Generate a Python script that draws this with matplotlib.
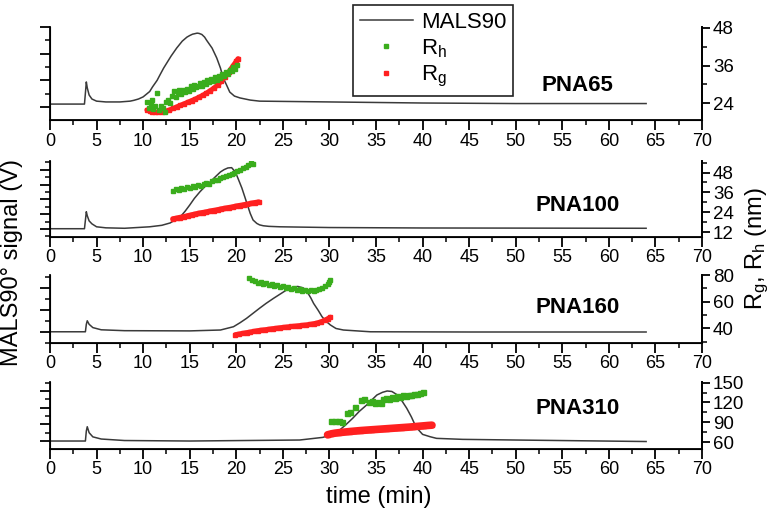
import matplotlib
matplotlib.use("Agg")
import matplotlib.pyplot as plt
from matplotlib.lines import Line2D
from matplotlib.ticker import MultipleLocator

plt.rcParams['font.family'] = ['Liberation Sans', 'DejaVu Sans']
plt.rcParams['mathtext.default'] = 'regular'

# ---- data ----
samples = ['PNA65', 'PNA100', 'PNA160', 'PNA310']

# MALS90 signal (arbitrary V units, no labels on the left axis)
mals_t1 = [0, 3.7, 3.82, 3.9, 4.0, 4.2, 4.5, 5.0, 6.0, 7.5, 8.6, 9.0, 9.5, 10.0, 10.7, 11.0,
           11.5, 11.8, 12.2, 13.0, 13.6, 14.2, 14.7, 15.0, 15.3, 15.8, 16.0, 16.3, 16.6, 16.8,
           17.4, 17.9, 18.3, 18.6, 19.0, 19.3, 19.8, 20.4, 21.5, 22.5, 25, 30, 40, 50, 64]
mals_v1 = [0.11, 0.11, 0.6, 0.94, 0.72, 0.45, 0.3, 0.22, 0.19, 0.19, 0.22, 0.25, 0.3, 0.38,
           0.58, 0.75, 1.0, 1.2, 1.46, 1.91, 2.21, 2.47, 2.62, 2.68, 2.73, 2.77, 2.76, 2.72,
           2.62, 2.51, 2.21, 1.84, 1.46, 1.09, 0.79, 0.56, 0.41, 0.34, 0.26, 0.22, 0.21, 0.19,
           0.15, 0.13, 0.13]

mals_t2 = [0, 3.7, 3.82, 3.9, 4.0, 4.2, 4.5, 5.0, 6.0, 8.0, 10.7, 12.0, 12.9, 14.0, 14.5,
           15.0, 15.5, 16.1, 16.6, 17.2, 17.7, 18.3, 18.7, 19.1, 19.5, 19.9, 20.2, 20.6, 20.9,
           21.2, 21.5, 21.8, 22.2, 22.5, 22.9, 23.5, 24.7, 30, 40, 64]
mals_v2 = [0.02, 0.02, 0.7, 1.17, 0.9, 0.55, 0.35, 0.15, 0.08, 0.05, 0.15, 0.25, 0.41, 0.83,
           1.2, 1.62, 2.07, 2.52, 2.85, 3.19, 3.5, 3.86, 4.02, 4.13, 4.15, 3.86, 3.4, 2.77,
           2.2, 1.62, 1.05, 0.61, 0.38, 0.28, 0.22, 0.18, 0.15, 0.1, 0.07, 0.05]

mals_t3 = [0, 3.8, 3.9, 4.0, 4.2, 4.6, 5.5, 8.0, 15.0, 18.3, 19.7, 20.4, 21.1, 22.5, 23.2,
           24.0, 24.7, 25.4, 26.0, 26.6, 27.2, 27.6, 28.0, 28.3, 28.8, 29.2, 29.6, 30.1, 30.7,
           31.5, 34.4, 45, 64]
mals_v3 = [0.01, 0.01, 0.35, 0.51, 0.35, 0.2, 0.1, 0.06, 0.05, 0.09, 0.24, 0.42, 0.62, 1.08,
           1.3, 1.53, 1.72, 1.91, 2.02, 2.07, 2.0, 1.83, 1.55, 1.30, 0.98, 0.70, 0.5, 0.32,
           0.16, 0.09, 0.01, 0.0, 0.0]

mals_t4 = [0, 3.8, 3.9, 4.0, 4.2, 4.6, 5.5, 8.0, 15.0, 26.8, 29.3, 30.3, 31.1, 31.8, 32.5,
           33.2, 34.0, 34.6, 35.1, 35.7, 36.2, 36.7, 37.3, 37.8, 38.3, 38.8, 39.2, 39.6, 40.0,
           40.8, 41.5, 44.3, 50, 64]
mals_v4 = [0.0, 0.0, 0.6, 0.86, 0.5, 0.25, 0.12, 0.03, 0.0, 0.06, 0.22, 0.4, 0.66, 1.0, 1.37,
           1.78, 2.17, 2.5, 2.77, 2.93, 3.01, 2.98, 2.77, 2.4, 1.97, 1.45, 0.96, 0.65, 0.40,
           0.26, 0.16, 0.10, 0.06, -0.03]

# Rh (nm)
rh_t1 = [10.4, 10.6, 10.8, 11.0, 11.1, 11.3, 11.5, 11.7, 11.9, 12.1, 12.3, 12.5, 12.7, 12.9,
         13.1, 13.3, 13.5, 13.7, 13.9, 14.1, 14.3, 14.5, 14.7, 14.9, 15.1, 15.3, 15.5, 15.7,
         15.9, 16.1, 16.3, 16.5, 16.7, 16.9, 17.1, 17.3, 17.5, 17.7, 17.9, 18.1, 18.3, 18.5,
         18.7, 18.9, 19.1, 19.3, 19.5, 19.7, 19.9, 20.1]
rh_v1 = [24.3, 22.5, 23.6, 24.9, 22.0, 23.2, 27.2, 21.8, 23.0, 22.4, 21.2, 24.5, 25.1, 24.0,
         26.2, 27.8, 26.0, 27.4, 28.3, 27.0, 28.1, 27.6, 28.6, 28.0, 29.3, 28.4, 29.8, 29.0,
         29.5, 30.4, 29.6, 30.8, 30.2, 31.3, 30.6, 31.6, 31.1, 32.3, 31.5, 32.6, 32.0, 33.3,
         32.7, 34.0, 33.4, 34.6, 34.1, 35.5, 35.0, 36.3]

rh_t2 = [13.2, 13.5, 13.8, 14.1, 14.4, 14.7, 15.0, 15.3, 15.6, 15.9, 16.2, 16.5, 16.8, 17.1,
         17.4, 17.7, 18.0, 18.3, 18.6, 18.9, 19.2, 19.5, 19.8, 20.1, 20.4, 20.7, 21.0, 21.3,
         21.6, 21.8]
rh_v2 = [37.0, 37.8, 37.4, 38.5, 38.2, 39.0, 38.7, 39.6, 39.4, 40.2, 40.0, 40.9, 41.4, 41.2,
         42.6, 43.3, 43.6, 44.6, 45.5, 46.0, 46.6, 47.2, 47.9, 48.8, 49.6, 50.8, 51.5, 52.4,
         53.8, 53.2]

rh_t3 = [21.4, 21.7, 22.0, 22.3, 22.6, 22.9, 23.2, 23.5, 23.8, 24.1, 24.4, 24.7, 25.0, 25.3,
         25.6, 25.9, 26.2, 26.5, 26.8, 27.1, 27.4, 27.7, 28.0, 28.3, 28.6, 28.9, 29.2, 29.5,
         29.8, 30.0, 30.1]
rh_v3 = [78.0, 76.4, 75.6, 74.2, 74.9, 73.1, 73.8, 72.4, 73.0, 71.8, 72.5, 71.2, 71.6, 70.1,
         70.8, 69.4, 70.0, 68.8, 69.5, 68.2, 68.9, 67.8, 68.6, 68.0, 69.0, 69.6, 70.4, 71.5,
         73.4, 75.0, 76.0]

rh_t4 = [30.2, 30.6, 31.0, 31.3, 31.9, 32.2, 32.7, 33.4, 33.7, 34.3, 34.6, 34.9, 35.2, 35.5,
         35.8, 36.1, 36.4, 36.7, 37.0, 37.3, 37.6, 37.9, 38.2, 38.5, 38.8, 39.1, 39.4, 39.7, 40.0]
rh_v4 = [91.5, 92.5, 92.0, 90.8, 104.0, 105.5, 113.0, 123.0, 125.5, 120.0, 122.5, 118.5, 121.0,
         119.0, 125.0, 127.0, 125.5, 128.5, 127.0, 129.5, 128.5, 131.0, 130.0, 132.0, 131.0,
         133.0, 132.5, 134.5, 136.0]

# Rg (nm)
rg_t1 = [10.4, 10.7, 11.0, 11.3, 11.6, 12.0, 12.4, 12.8, 13.2, 13.6, 14.0, 14.4, 14.8, 15.2,
         15.6, 16.0, 16.4, 16.8, 17.2, 17.6, 18.0, 18.4, 18.8, 19.2, 19.6, 20.0, 20.2]
rg_v1 = [21.8, 21.5, 21.2, 21.1, 21.1, 21.1, 21.4, 21.8, 22.3, 22.8, 23.3, 23.8, 24.3, 24.8,
         25.3, 25.9, 26.5, 27.2, 28.0, 28.8, 29.8, 31.0, 32.4, 34.0, 35.7, 37.4, 38.2]

rg_t2 = [13.2, 13.6, 14.0, 14.4, 14.8, 15.2, 15.6, 16.0, 16.4, 16.8, 17.2, 17.6, 18.0, 18.4,
         18.8, 19.2, 19.6, 20.0, 20.4, 20.8, 21.2, 21.6, 22.0, 22.4]
rg_v2 = [19.9, 20.3, 20.8, 21.2, 21.8, 22.3, 22.8, 23.3, 23.7, 24.1, 24.6, 25.0, 25.4, 25.9,
         26.3, 26.7, 27.1, 27.6, 28.0, 28.4, 28.8, 29.3, 29.7, 30.1]

rg_t3 = [19.9, 20.3, 20.7, 21.1, 21.5, 21.9, 22.3, 22.7, 23.1, 23.5, 23.9, 24.3, 24.7, 25.1,
         25.5, 25.9, 26.3, 26.7, 27.1, 27.5, 27.9, 28.3, 28.7, 29.1, 29.5, 29.8, 30.1]
rg_v3 = [35.3, 35.8, 36.3, 36.8, 37.3, 37.8, 38.3, 38.7, 39.0, 39.4, 39.8, 40.1, 40.5, 40.8,
         41.1, 41.4, 41.7, 42.0, 42.3, 42.6, 43.0, 43.5, 44.1, 45.0, 46.1, 47.2, 48.4]

rg_t4 = [29.8, 30.2, 30.6, 31.0, 31.4, 31.8, 32.2, 32.6, 33.0, 33.4, 33.8, 34.2, 34.6, 35.0,
         35.4, 35.8, 36.2, 36.6, 37.0, 37.4, 37.8, 38.2, 38.6, 39.0, 39.4, 39.8, 40.2, 40.6, 41.0]
rg_v4 = [71.0, 72.5, 73.5, 74.2, 74.8, 75.4, 76.0, 76.5, 77.0, 77.5, 77.9, 78.3, 78.7, 79.1,
         79.5, 79.9, 80.3, 80.7, 81.1, 81.5, 81.9, 82.3, 82.7, 83.2, 83.7, 84.2, 84.7, 85.2, 85.6]

right_ticks = [[24, 36, 48], [12, 24, 36, 48], [40, 60, 80], [60, 90, 120, 150]]
x_ticks = list(range(0, 75, 5))

mals_t = [mals_t1, mals_t2, mals_t3, mals_t4]
mals_v = [mals_v1, mals_v2, mals_v3, mals_v4]
rh_t = [rh_t1, rh_t2, rh_t3, rh_t4]
rh_v = [rh_v1, rh_v2, rh_v3, rh_v4]
rg_t = [rg_t1, rg_t2, rg_t3, rg_t4]
rg_v = [rg_v1, rg_v2, rg_v3, rg_v4]

# ---- layout (pixels of a 779x518 canvas) ----
W, H = 779, 518
x0, x1 = 50, 702
panel_px = [(27, 120), (161, 237), (275, 343), (382, 449)]
left_lim = [(-0.487, 3.0), (-0.54, 4.6), (-0.5, 2.59), (-0.48, 3.55)]
right_lim = [(18.6, 48.3), (9, 55), (29, 80), (49.5, 151)]
right_minor = [6, 6, 10, 15]
label_y = [0.376, 0.42, 0.515, 0.61]
rg_lw = [3.5, 4.0, 3.5, 5.5]
rh_ms = [2.8, 2.8, 2.8, 3.6]

green = '#3aad1c'
red = '#ff2020'
line_col = '#3a3a3a'

fig = plt.figure(figsize=(W / 100, H / 100), dpi=100)

for i in range(4):
    top, bot = panel_px[i]
    ax = fig.add_axes([x0 / W, 1 - bot / H, (x1 - x0) / W, (bot - top) / H])
    ax.plot(mals_t[i], mals_v[i], color=line_col, lw=1.1)
    ax.set_xlim(0, 70)
    ax.set_ylim(*left_lim[i])
    ax.set_xticks(x_ticks)
    ax.xaxis.set_minor_locator(MultipleLocator(2.5))
    ax.yaxis.set_major_locator(MultipleLocator(1))
    ax.yaxis.set_minor_locator(MultipleLocator(0.5))
    ax.set_yticklabels([])
    ax.tick_params(axis='x', which='major', length=7, width=1.3, labelsize=13, pad=2)
    ax.tick_params(axis='x', which='minor', length=3.5, width=1.1)
    ax.tick_params(axis='y', which='major', length=7, width=1.3)
    ax.tick_params(axis='y', which='minor', length=3.5, width=1.1)
    ax.spines['top'].set_visible(False)
    for s in ['left', 'bottom', 'right']:
        ax.spines[s].set_linewidth(1.3)

    ax2 = ax.twinx()
    ax2.plot(rg_t[i], rg_v[i], color=red, lw=rg_lw[i], marker='s', ms=3.5,
             solid_capstyle='round')
    ax2.plot(rh_t[i], rh_v[i], ls='none', marker='s', ms=rh_ms[i], color=green,
             markeredgecolor=green)
    ax2.set_ylim(*right_lim[i])
    ax2.set_yticks(right_ticks[i])
    ax2.yaxis.set_minor_locator(MultipleLocator(right_minor[i]))
    ax2.tick_params(axis='y', which='major', length=6, width=1.3, labelsize=13.5, pad=2)
    ax2.tick_params(axis='y', which='minor', length=3.5, width=1.1)
    ax2.spines['top'].set_visible(False)
    ax2.spines['right'].set_linewidth(1.3)

    ax.text(56.6, label_y[i], samples[i], transform=ax.get_xaxis_transform(),
            ha='center', va='center', fontsize=16, fontweight='bold')

fig.text(12 / W, 1 - 262 / H, 'MALS90° signal (V)', rotation=90,
         ha='center', va='center', fontsize=17)
fig.text(757 / W, 1 - 248 / H, 'R$_g$, R$_h$ (nm)', rotation=90,
         ha='center', va='center', fontsize=17)
fig.text(379 / W, 1 - 497 / H, 'time (min)', ha='center', va='center', fontsize=17)

handles = [Line2D([], [], color=line_col, lw=1.1),
           Line2D([], [], ls='none', marker='s', ms=3, color=green),
           Line2D([], [], ls='none', marker='s', ms=3, color=red)]
leg = fig.legend(handles, ['MALS90', 'R$_h$', 'R$_g$'], loc='upper left',
                 bbox_to_anchor=(353 / W, 1 - 5 / H), fontsize=16, frameon=True,
                 fancybox=False, framealpha=1, edgecolor='#222222', borderaxespad=0,
                 handlelength=2.4, handletextpad=0.35, labelspacing=0.2, borderpad=0.3,
                 numpoints=1)
leg.get_frame().set_linewidth(1.2)

fig.savefig('out.png', dpi=100)
